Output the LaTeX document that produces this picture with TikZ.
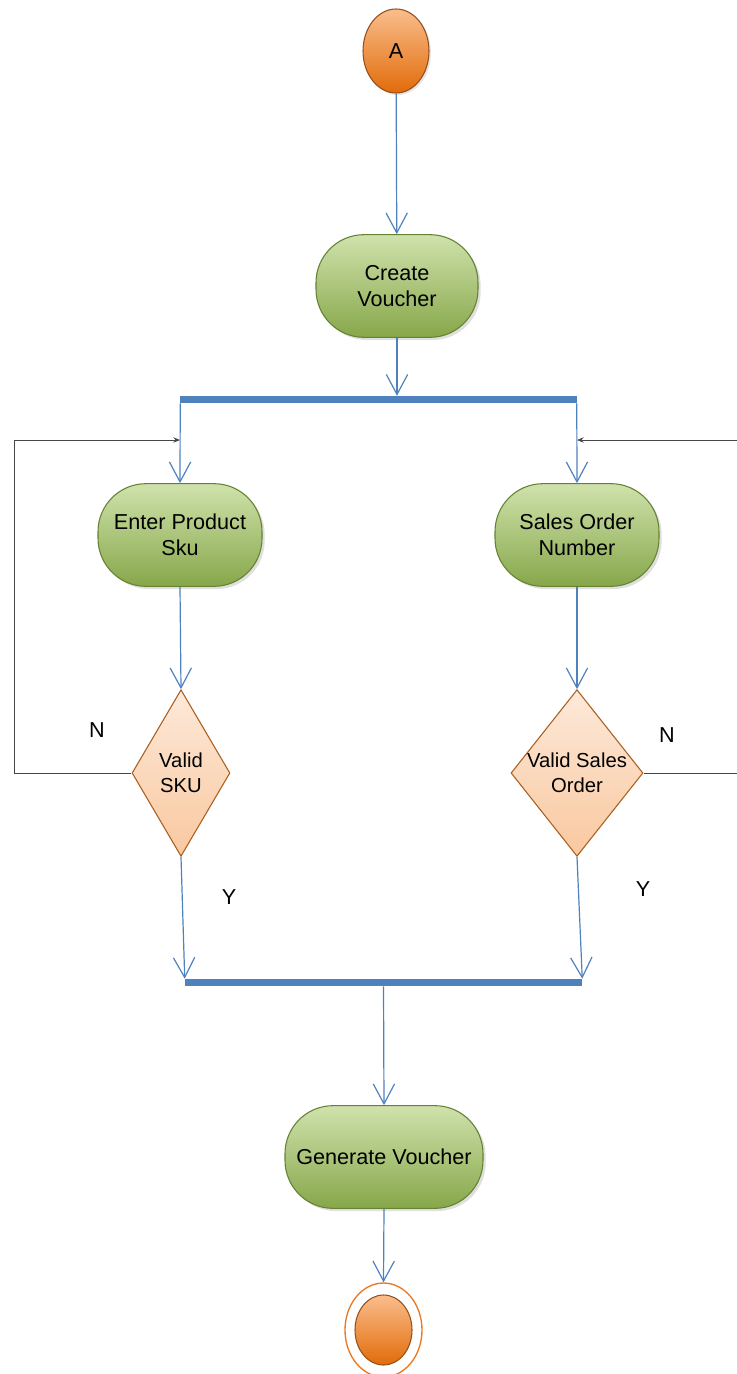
\documentclass[tikz,border=0pt]{standalone}
\usepackage{fontspec}
\setmainfont{Liberation Sans}
\usetikzlibrary{arrows.meta,shapes.geometric,shadows}

\definecolor{flowblue}{RGB}{79,129,189}
\definecolor{backgray}{RGB}{70,70,70}
\definecolor{actTop}{RGB}{207,226,172}
\definecolor{actBot}{RGB}{135,167,74}
\definecolor{actLine}{RGB}{100,130,50}
\definecolor{decTop}{RGB}{253,233,217}
\definecolor{decBot}{RGB}{249,200,160}
\definecolor{decLine}{RGB}{170,95,30}
\definecolor{endTop}{RGB}{249,190,140}
\definecolor{endBot}{RGB}{226,107,10}
\definecolor{endLine}{RGB}{150,80,30}
\definecolor{endRing}{RGB}{235,120,30}

\begin{document}
\begin{tikzpicture}[x=0.75pt,y=-0.75pt,
  every node/.style={font=\fontsize{16.2}{19.5}\selectfont, align=center},
  act/.style={rectangle, rounded corners=36pt, draw=actLine, line width=0.8pt,
    top color=actTop, bottom color=actBot, minimum height=77pt, inner sep=0pt,
    drop shadow={shadow xshift=2pt, shadow yshift=-2pt, opacity=0.25}},
  dec/.style={diamond, aspect=0.5, draw=decLine, line width=0.8pt, top color=decTop,
    bottom color=decBot, inner sep=0pt, font=\fontsize{15.2}{19}\selectfont},
  bar/.style={rectangle, fill=flowblue, inner sep=0pt, minimum height=5.25pt},
  flow/.style={draw=flowblue, line width=0.9pt, -{Straight Barb[length=15pt,width=16pt]}},
  back/.style={draw=backgray, line width=0.75pt, -{Stealth[length=5pt,width=4pt]}}]

\useasboundingbox (0,0) rectangle (736,1374);

\node[ellipse, draw=endLine, line width=0.8pt, top color=endTop, bottom color=endBot,
  minimum width=49.5pt, minimum height=63pt, inner sep=0pt,
  drop shadow={shadow xshift=1.5pt, shadow yshift=-1.5pt, opacity=0.2}] (start) at (396,51) {A};

\node[act, minimum width=121.5pt] (create) at (397,286) {Create\\Voucher};
\node[bar, minimum width=297.75pt] (fork) at (378.5,399.5) {};

\node[act, minimum width=123pt] (sku) at (180,535) {Enter Product\\Sku};
\node[act, minimum width=123pt] (son) at (577,535) {Sales Order\\Number};

\node[dec, minimum width=73.5pt, minimum height=125pt] (vsku) at (181,773)
  {\makebox[0pt]{Valid}\\\makebox[0pt]{SKU}};
\node[dec, minimum width=99pt, minimum height=125pt] (vso) at (577,773)
  {\makebox[0pt]{Valid Sales}\\\makebox[0pt]{Order}};

\node (nleft) at (97,730) {N};
\node (yleft) at (229,897) {Y};
\node (nright) at (667,735) {N};
\node (yright) at (643,889) {Y};

\node[bar, minimum width=297.75pt] (join) at (383.5,982.5) {};
\node[act, minimum width=148.5pt] (gen) at (384,1157) {Generate Voucher};

\node[ellipse, draw=endRing, line width=1pt, minimum width=57.75pt, minimum height=70.5pt] (finring) at (383.5,1330) {};
\node[ellipse, draw=endLine, line width=0.8pt, top color=endTop, bottom color=endBot,
  minimum width=42.75pt, minimum height=52.5pt, inner sep=0pt] (fin) at (383.5,1330) {};

\coordinate (lcorner) at (14,773);
\coordinate (lin) at (180,440);
\coordinate (rcorner) at (745,773);
\coordinate (rin) at (577,440);

\draw[flow] (start) -- (create);
\draw[flow] (create.south) -- (create.south |- fork.north);

\draw[flow] (fork.west |- fork.south) ++(0.5,0) -- (sku.north);
\draw[flow] (fork.east |- fork.south) ++(-0.5,0) -- (son.north);

\draw[flow] (sku.south) -- (vsku.north);
\draw[flow] (son.south) -- (vso.north);

\draw[back] (vsku.west) -- (lcorner) |- (lin);
\draw[back] (vso.east) -- (rcorner) |- (rin);

\draw[flow] (vsku.south) -- (join.north west);
\draw[flow] (vso.south) -- (join.north east);

\draw[flow] (join.south) -- (gen.north);
\draw[flow] (gen.south) -- (finring.north);
\end{tikzpicture}
\end{document}
